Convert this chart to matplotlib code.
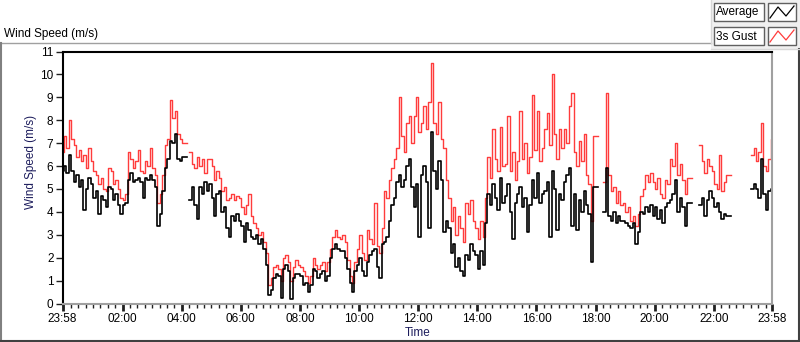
import numpy as np
import matplotlib.pyplot as plt
from matplotlib.lines import Line2D
from matplotlib.patches import Rectangle

nan = float("nan")

# 5-minute samples starting at 23:58, one hour per row
gust = [
    6.6, 7.3, 6.8, 8.0, 7.2, 6.9, 6.4, 6.7, 6.2, 6.5, 5.9, 6.8,
    6.2, 5.8, 5.6, 5.2, 5.5, 5.0, 4.9, 5.9, 5.8, 5.2, 5.4, 5.0,
    4.6, 4.5, 4.8, 6.6, 6.3, 5.9, 6.2, 6.7, 5.8, 5.7, 6.2, 6.0,
    6.8, 5.9, 5.6, 4.4, 4.8, 5.6, 6.9, 7.2, 8.9, 8.1, 8.4, 7.4,
    7.2, 7.0, 7.0, nan, 6.6, 6.1, 5.9, 6.4, 6.0, 6.3, 5.7, 6.3,
    6.3, 6.0, 5.4, 5.8, 5.5, 4.9, 5.1, 4.5, 4.6, 4.8, 4.5, 4.7,
    4.6, 4.2, 3.9, 4.3, 4.8, 3.8, 3.5, 3.3, 3.0, 3.1, 2.7, 2.2,
    0.8, 1.1, 1.6, 1.7, 1.5, 1.0, 2.0, 2.1, 1.8, 1.0, 1.6, 1.9,
    1.7, 1.6, 1.4, 1.2, 0.9, 1.2, 2.0, 1.7, 1.5, 1.7, 1.8, 1.4,
    1.8, 2.4, 2.9, 3.2, 2.9, 2.8, 3.0, 2.7, 1.9, 1.2, 0.9, 1.8,
    2.4, 3.0, 2.2, 1.9, 3.2, 2.8, 2.6, 4.4, 2.5, 2.2, 3.3, 4.9,
    4.6, 5.4, 5.9, 6.3, 6.8, 9.0, 7.3, 6.6, 7.9, 8.2, 7.0, 8.2,
    9.0, 7.5, 7.9, 8.6, 7.6, 8.8, 10.5, 7.9, 7.4, 8.8, 7.2, 6.8,
    5.4, 4.6, 3.6, 4.2, 3.0, 3.8, 3.3, 2.7, 4.4, 3.9, 4.5, 3.6,
    3.3, 2.8, 3.6, 2.9, 4.6, 6.4, 5.5, 7.6, 6.3, 5.8, 7.7, 6.0,
    6.1, 8.2, 5.8, 6.6, 5.4, 6.2, 8.4, 6.3, 7.0, 5.7, 6.4, 9.1,
    6.7, 8.4, 6.2, 6.8, 7.6, 8.3, 6.9, 10.0, 7.4, 6.3, 7.6, 6.8,
    7.6, 7.0, 8.6, 9.2, 6.6, 6.0, 7.1, 6.2, 7.4, 5.6, 5.2, 3.6,
    7.3, 7.3, nan, nan, 5.3, 9.2, 5.6, 4.9, 5.1, 4.4, 4.9, 4.3,
    4.4, 4.0, 4.2, 3.6, 3.8, 3.4, 3.9, 4.7, 5.0, 5.6, 5.3, 5.7,
    5.3, 5.0, 5.5, 4.8, 4.6, 5.4, 5.2, 6.3, 6.0, 7.0, 5.6, 6.1,
    5.4, 4.8, 5.5, 5.5, nan, nan, nan, 6.9, 6.2, 5.7, 6.3, 6.0,
    5.8, 5.2, 5.0, 6.5, 4.9, 5.3, 5.6, 5.6, nan, nan, nan, nan,
    nan, nan, nan, nan, 6.5, 6.8, 6.2, 6.6, 7.9, 6.0, 5.8, 6.3, 7.2,
]

average = [
    5.8, 6.0, 5.7, 6.5, 5.8, 5.3, 5.6, 5.1, 5.4, 4.1, 5.0, 5.5,
    5.2, 4.6, 4.9, 3.9, 4.7, 4.5, 4.2, 5.1, 5.0, 4.5, 4.8, 4.3,
    3.9, 4.3, 4.4, 5.4, 5.7, 5.3, 5.4, 5.5, 5.3, 4.6, 5.5, 5.4,
    5.6, 5.4, 5.1, 3.4, 3.9, 4.9, 5.9, 6.3, 7.1, 7.0, 7.4, 6.3,
    6.2, 6.4, 6.4, nan, 4.5, 5.1, 4.3, 3.7, 5.1, 4.8, 5.3, 4.9,
    5.2, 4.6, 3.8, 4.8, 4.9, 4.0, 4.2, 3.3, 2.9, 3.8, 3.6, 3.9,
    3.6, 3.4, 2.7, 3.5, 3.2, 2.9, 2.8, 3.0, 2.6, 2.8, 2.4, 1.7,
    0.35, 0.6, 1.1, 1.3, 1.2, 0.25, 1.5, 1.7, 1.4, 0.2, 1.1, 1.3,
    1.3, 1.2, 0.8, 0.9, 0.5, 0.8, 1.5, 1.4, 1.1, 1.3, 1.4, 1.0,
    1.2, 2.0, 2.4, 2.6, 2.4, 2.3, 2.3, 2.0, 1.5, 0.9, 0.5, 1.4,
    1.7, 2.0, 1.4, 1.2, 1.8, 2.1, 2.3, 2.4, 1.6, 1.1, 2.6, 2.7,
    2.9, 3.6, 4.3, 4.6, 5.3, 5.6, 5.1, 5.4, 6.0, 6.3, 5.1, 4.2,
    5.2, 2.9, 5.6, 6.0, 5.3, 3.3, 7.5, 5.8, 5.0, 6.2, 5.4, 3.1,
    3.6, 3.3, 2.2, 2.6, 1.6, 2.0, 1.4, 1.2, 2.1, 1.9, 2.6, 2.3,
    2.1, 1.5, 2.3, 1.7, 3.5, 4.8, 4.3, 5.2, 4.6, 4.1, 5.5, 4.4,
    4.7, 5.2, 4.0, 2.8, 4.4, 4.8, 5.1, 4.2, 4.6, 3.1, 4.3, 5.4,
    4.6, 5.7, 4.4, 4.8, 4.9, 5.3, 2.9, 5.8, 5.0, 3.2, 4.8, 4.5,
    5.3, 5.6, 5.9, 3.4, 4.8, 3.2, 4.5, 4.0, 4.9, 4.3, 3.9, 1.8,
    5.1, 5.1, nan, nan, 4.0, 5.9, 3.8, 3.6, 4.0, 3.5, 3.8, 3.6,
    3.6, 3.5, 3.4, 3.3, 3.5, 2.6, 3.1, 4.0, 3.9, 4.2, 4.0, 4.3,
    3.8, 4.2, 3.7, 4.1, 3.5, 4.2, 4.4, 4.5, 4.8, 5.4, 4.0, 4.6,
    4.2, 3.4, 4.4, 4.4, nan, nan, nan, 4.3, 4.6, 3.8, 4.5, 4.9,
    4.6, 4.2, 4.4, 4.0, 3.7, 3.9, 3.8, 3.8, nan, nan, nan, nan,
    nan, nan, nan, nan, 5.0, 5.2, 5.0, 4.6, 6.3, 4.8, 4.1, 4.9, 5.0,
]

step_min = 5
tick_pos = [0, 122, 242, 362, 482, 602, 722, 842, 962, 1082, 1202, 1322, 1440]
tick_labels = ["23:58", "02:00", "04:00", "06:00", "08:00", "10:00", "12:00",
               "14:00", "16:00", "18:00", "20:00", "22:00", "23:58"]
y_ticks = list(range(0, 12))

plt.rcParams["font.family"] = ["Liberation Sans", "DejaVu Sans"]

W, H = 800, 342
fig = plt.figure(figsize=(W / 100, H / 100), dpi=100)


def fx(x):
    return x / W


def fy(y):
    return 1 - y / H


# outer panel frame
fig.add_artist(Line2D([fx(0), fx(711)], [fy(42.5), fy(42.5)], color="#a0a0a0", lw=1))
fig.add_artist(Line2D([fx(1), fx(1)], [fy(42.5), fy(341)], color="#808080", lw=1.5))
fig.add_artist(Line2D([fx(0), fx(799)], [fy(341), fy(341)], color="#404040", lw=1.5))
fig.add_artist(Line2D([fx(799), fx(799)], [fy(49), fy(341)], color="#404040", lw=1.5))
# legend panel
fig.add_artist(Rectangle((fx(711), fy(49)), fx(89), 49 / H, facecolor="#f0f0f0",
                         edgecolor="none"))
fig.add_artist(Line2D([fx(711), fx(711)], [fy(0), fy(42.5)], color="#d8d8d8", lw=1))
fig.add_artist(Line2D([fx(711), fx(799)], [fy(48.5), fy(48.5)], color="#d8d8d8", lw=1))

fig.text(fx(4), fy(37), "Wind Speed (m/s)", fontsize=8.5, color="#000000",
         va="baseline", ha="left")

ax = fig.add_axes([fx(62.5), fy(303.5), fx(709.5), 252 / H])
t = np.arange(len(gust)) * step_min
ax.plot(t, gust, color="#ff3c3c", lw=1.0, drawstyle="steps-mid")
ax.plot(t, average, color="#000000", lw=1.2, drawstyle="steps-mid")

ax.set_xlim(0, 1440)
ax.set_ylim(0, 11)
ax.set_yticks(y_ticks)
ax.set_xticks(tick_pos)
ax.set_xticklabels(tick_labels)
ax.set_xticks(np.arange(2, 1440, 15), minor=True)
ax.tick_params(axis="y", direction="out", length=5, width=1, pad=1.5,
               labelsize=8.5, color="#202020")
ax.tick_params(axis="x", which="major", direction="out", length=5, width=2,
               pad=2, labelsize=8.5, color="#202020")
ax.tick_params(axis="x", which="minor", direction="out", length=3, width=1,
               color="#202020")
for side in ["left", "top"]:
    ax.spines[side].set_color("#000000")
    ax.spines[side].set_linewidth(1.5)
for side in ["right", "bottom"]:
    ax.spines[side].set_color("#a0a0a0")
    ax.spines[side].set_linewidth(1.5)

fig.text(fx(31), fy(162), "Wind Speed (m/s)", rotation=90, fontsize=8.5,
         color="#1c1c5c", ha="center", va="center")
fig.text(fx(418), fy(333), "Time", fontsize=8.5, color="#1c1c5c",
         ha="center", va="center")

# legend boxes
legend_names = ["Average", "3s Gust"]
legend_colors = ["#000000", "#ff3c3c"]
for i, (name, col) in enumerate(zip(legend_names, legend_colors)):
    top = 3 + i * 24
    fig.add_artist(Rectangle((fx(713.5), fy(top + 18)), fx(50.5), 18 / H,
                             facecolor="white", edgecolor="#606060", lw=1))
    fig.text(fx(716), fy(top + 9.5), name, fontsize=8.5, va="center", ha="left")
    fig.add_artist(Rectangle((fx(768), fy(top + 18)), fx(28), 18 / H,
                             facecolor="white", edgecolor="#606060", lw=1))
    fig.add_artist(Line2D([fx(770), fx(778), fx(786), fx(794)],
                          [fy(top + 15), fy(top + 4), fy(top + 13), fy(top + 3)],
                          color=col, lw=0.9))

fig.savefig("out.png", dpi=100, facecolor="white")
